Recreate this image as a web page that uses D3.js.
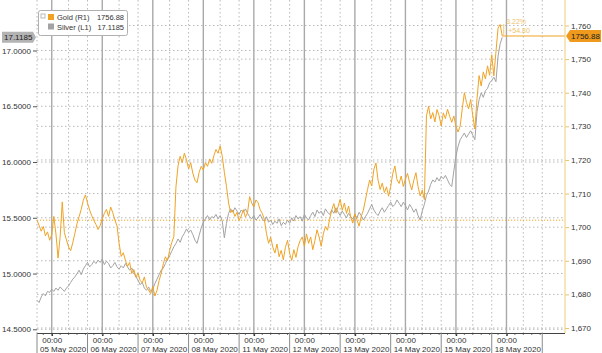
<!DOCTYPE html>
<html>
<head>
<meta charset="utf-8">
<script src="https://cdn.jsdelivr.net/npm/d3@7/dist/d3.min.js"></script>
<style>
body { margin: 0; background: #fff; }
svg text { font-family: "Liberation Sans", Arial, sans-serif; font-size: 8px; fill: #333; }
</style>
</head>
<body>
<script>
// Session days on the x axis (each session runs 17:00 -> 17:00, hourly points)
let dayLabels = ["05 May 2020", "06 May 2020", "07 May 2020", "08 May 2020", "11 May 2020",
                 "12 May 2020", "13 May 2020", "14 May 2020", "15 May 2020", "18 May 2020"];

// Gold (R1), one value per session hour
let goldValues = [
  1702.1, 1700.5, 1698.8, 1700.2, 1697.4, 1698.6, 1696.1, 1697.8, 1703.2, 1698.0,
  1690.8, 1697.2, 1707.5, 1698.4, 1696.2, 1694.1, 1693.0, 1695.4, 1698.2, 1701.0,
  1703.1, 1705.3, 1708.0, 1709.6, 1707.2, 1705.1, 1703.4, 1702.0, 1700.8, 1699.3,
  1700.5, 1702.4, 1704.1, 1705.3, 1703.2, 1706.0, 1704.3, 1702.1, 1700.4, 1695.2,
  1691.3, 1692.4, 1690.1, 1688.3, 1689.5, 1686.2, 1687.4, 1685.1, 1686.3, 1684.2,
  1683.4, 1685.2, 1682.1, 1681.3, 1680.2, 1682.4, 1679.5, 1681.2, 1684.1, 1686.3,
  1689.1, 1691.2, 1690.0, 1693.1, 1695.4, 1697.2, 1712.0, 1718.3, 1721.1, 1719.2,
  1722.0, 1720.1, 1717.3, 1719.2, 1716.1, 1714.0, 1713.2, 1716.3, 1718.1, 1717.0,
  1719.2, 1718.1, 1720.3, 1719.0, 1721.2, 1723.1, 1722.0, 1724.2, 1721.1, 1716.3,
  1712.1, 1707.2, 1704.3, 1705.1, 1703.2, 1704.4, 1702.1, 1703.3, 1705.2, 1703.0,
  1704.3, 1709.1, 1707.2, 1706.0, 1708.1, 1707.3, 1705.2, 1704.1, 1702.3, 1698.1,
  1695.2, 1697.0, 1694.1, 1692.3, 1695.0, 1691.2, 1693.1, 1690.3, 1694.0, 1696.1,
  1692.2, 1690.1, 1693.3, 1691.0, 1694.2, 1696.0, 1697.1, 1694.3, 1698.0, 1695.2,
  1697.1, 1693.3, 1696.0, 1699.2, 1697.1, 1694.3, 1698.0, 1700.2, 1699.1, 1702.3,
  1705.1, 1707.0, 1704.2, 1706.1, 1708.3, 1705.0, 1707.2, 1704.1, 1706.3, 1703.0,
  1701.2, 1704.0, 1702.1, 1700.3, 1703.2, 1705.0, 1708.1, 1711.2, 1714.0, 1712.3,
  1717.2, 1719.1, 1714.0, 1711.2, 1713.1, 1710.3, 1712.0, 1709.2, 1712.1, 1716.0,
  1718.2, 1714.1, 1713.0, 1715.2, 1712.1, 1714.3, 1716.0, 1713.2, 1711.1, 1714.0,
  1716.2, 1712.1, 1709.3, 1711.0, 1708.2, 1733.1, 1736.0, 1732.2, 1734.1, 1731.3,
  1735.0, 1733.2, 1730.1, 1734.0, 1732.3, 1735.1, 1733.0, 1731.2, 1733.1, 1730.0,
  1728.3, 1730.1, 1735.2, 1740.0, 1737.1, 1735.2, 1738.0, 1733.1, 1729.2, 1738.3,
  1745.1, 1742.0, 1746.2, 1744.1, 1748.0, 1745.2, 1751.3, 1745.0, 1752.1, 1759.2,
  1760.3, 1756.88
];

// Silver (L1), same hours
let silverValues = [
  14.76, 14.74, 14.79, 14.82, 14.80, 14.84, 14.83, 14.86, 14.84, 14.87,
  14.85, 14.88, 14.86, 14.84, 14.87, 14.89, 14.92, 14.95, 14.97, 15.00,
  15.03, 14.99, 15.04, 15.07, 15.10, 15.06, 15.08, 15.11, 15.09, 15.12,
  15.10, 15.13, 15.08, 15.11, 15.09, 15.05, 15.07, 15.10, 15.06, 15.04,
  15.07, 15.05, 15.09, 15.06, 15.03, 15.05, 15.01, 14.97, 14.94, 14.90,
  14.92, 14.87, 14.85, 14.88, 14.84, 14.86, 14.91, 14.95, 14.99, 15.03,
  15.05, 15.09, 15.13, 15.16, 15.20, 15.24, 15.27, 15.31, 15.28, 15.33,
  15.36, 15.40, 15.37, 15.39, 15.35, 15.30, 15.27, 15.34, 15.41, 15.46,
  15.49, 15.52, 15.48, 15.51, 15.50, 15.53, 15.49, 15.52, 15.47, 15.32,
  15.45, 15.54, 15.58, 15.55, 15.59, 15.56, 15.53, 15.57, 15.55, 15.58,
  15.54, 15.51, 15.49, 15.52, 15.48, 15.50, 15.53, 15.49, 15.47, 15.51,
  15.46, 15.48, 15.44, 15.47, 15.45, 15.49, 15.43, 15.46, 15.44, 15.48,
  15.45, 15.50, 15.47, 15.52, 15.49, 15.51, 15.47, 15.53, 15.50, 15.48,
  15.52, 15.55, 15.51, 15.57, 15.54, 15.56, 15.52, 15.58, 15.55, 15.53,
  15.57, 15.54, 15.59, 15.55, 15.52, 15.56, 15.53, 15.50, 15.54, 15.51,
  15.49, 15.53, 15.50, 15.55, 15.52, 15.48, 15.51, 15.54, 15.58, 15.62,
  15.57, 15.54, 15.52, 15.56, 15.59, 15.55, 15.58, 15.61, 15.64, 15.60,
  15.62, 15.66, 15.63, 15.60, 15.64, 15.61, 15.57, 15.62, 15.59, 15.55,
  15.58, 15.52, 15.48, 15.56, 15.62, 15.70, 15.74, 15.80, 15.84, 15.82,
  15.86, 15.83, 15.87, 15.85, 15.88, 15.84, 15.80, 15.78, 15.92, 16.05,
  16.14, 16.20, 16.23, 16.26, 16.22, 16.25, 16.28, 16.24, 16.20, 16.45,
  16.56, 16.62, 16.58, 16.64, 16.66, 16.71, 16.73, 16.76, 16.72, 16.95,
  17.06, 17.1185
];

let silverTicks = [14.5, 15.0, 15.5, 16.0, 16.5, 17.0];
let goldTicks = [1670, 1680, 1690, 1700, 1710, 1720, 1730, 1740, 1750, 1760];
let goldBase = 1702.08;   // gold at start of window

// Set the dimensions of the canvas / graph
let margin = {top: 0, right: 37, bottom: 20, left: 37};
let width = 602 - margin.left - margin.right;
let height = 353 - margin.top - margin.bottom;

let goldColor = "#f0a323";
let silverColor = "#a3a3a3";
let gridColor = "#b9b9b9";

// Set the ranges
let x = d3.scaleLinear().domain([0, 250.8]).range([0, width]);
let yGold = d3.scaleLinear().domain([1670, 1760]).range([328, 25.5]);
let ySilver = d3.scaleLinear().domain([14.5, 17.0]).range([329.3, 50.5]);

let svg = d3.select("body")
    .append("svg")
        .attr("width", width + margin.left + margin.right)
        .attr("height", height + margin.top + margin.bottom)
    .append("g")
        .attr("transform", "translate(" + margin.left + "," + margin.top + ")");

// hour positions: session start (17:00), midnight (00:00) and 08:00
let sessionStarts = dayLabels.map((d, i) => i * 24).concat([240]);
let midnights = dayLabels.map((d, i) => i * 24 + 7);
let mornings = dayLabels.map((d, i) => i * 24 + 15);

// horizontal dotted grid for both axes
svg.selectAll(".hgrid-s").data(silverTicks).enter().append("line")
    .attr("x1", 0).attr("x2", width)
    .attr("y1", d => ySilver(d)).attr("y2", d => ySilver(d))
    .attr("stroke", gridColor).attr("stroke-dasharray", "1.5,2.5");
svg.selectAll(".hgrid-g").data(goldTicks).enter().append("line")
    .attr("x1", 0).attr("x2", width)
    .attr("y1", d => yGold(d)).attr("y2", d => yGold(d))
    .attr("stroke", gridColor).attr("stroke-dasharray", "1.5,2.5");

// vertical dotted grid (08:00 and session boundaries)
svg.selectAll(".vgrid").data(mornings.concat(sessionStarts.slice(1))).enter().append("line")
    .attr("x1", d => x(d)).attr("x2", d => x(d))
    .attr("y1", 0).attr("y2", height)
    .attr("stroke", gridColor).attr("stroke-dasharray", "1.5,2.5");

// solid midnight lines
svg.selectAll(".vmid").data(midnights).enter().append("line")
    .attr("x1", d => x(d)).attr("x2", d => x(d))
    .attr("y1", 0).attr("y2", height)
    .attr("stroke", "#a9a9a9").attr("stroke-width", 1.4);

// gold reference line at start value
svg.append("line")
    .attr("x1", 0).attr("x2", width)
    .attr("y1", yGold(goldBase)).attr("y2", yGold(goldBase))
    .attr("stroke", goldColor).attr("stroke-dasharray", "1.2,1.8");

// Define the lines
let silverLine = d3.line()
    .x(function(d, i) { return x(i); })
    .y(function(d) { return ySilver(d); });
let goldLine = d3.line()
    .x(function(d, i) { return x(i); })
    .y(function(d) { return yGold(d); });

svg.append("path").attr("d", silverLine(silverValues))
    .attr("fill", "none").attr("stroke", silverColor).attr("stroke-width", 1);
svg.append("path").attr("d", goldLine(goldValues))
    .attr("fill", "none").attr("stroke", goldColor).attr("stroke-width", 1);

// last gold value carried to the right axis
let lastI = goldValues.length - 1;
let goldLast = goldValues[lastI];
let silverLast = silverValues[silverValues.length - 1];
svg.append("line")
    .attr("x1", x(lastI)).attr("x2", width)
    .attr("y1", yGold(goldLast)).attr("y2", yGold(goldLast))
    .attr("stroke", goldColor).attr("stroke-width", 1);

// change annotation
let change = goldLast - goldBase;
svg.append("line")
    .attr("x1", x(lastI) + 1.5).attr("x2", x(lastI) + 1.5)
    .attr("y1", yGold(goldLast) - 12).attr("y2", yGold(goldLast))
    .attr("stroke", "#f3c872").attr("stroke-width", 1);
svg.append("text")
    .attr("x", x(lastI) + 4).attr("y", yGold(goldLast) - 12)
    .style("fill", "#f0c36a").style("font-size", "7px")
    .text(d3.format(".2f")(change / goldBase * 100) + "%");
svg.append("text")
    .attr("x", x(lastI) + 6).attr("y", yGold(goldLast) - 3)
    .style("fill", "#f0c36a").style("font-size", "7px")
    .text("+" + d3.format(".2f")(change));

// Left axis (silver)
let yAxisLeft = d3.axisLeft(ySilver).tickValues(silverTicks)
    .tickFormat(d3.format(".4f")).tickSize(4).tickPadding(2);
let gl = svg.append("g").call(yAxisLeft);
gl.select(".domain").remove();
gl.selectAll(".tick line").attr("stroke", "#555");
gl.append("line").attr("x1", 0).attr("x2", 0).attr("y1", 0).attr("y2", height)
    .attr("stroke", gridColor).attr("stroke-dasharray", "1.5,2.5");

// Right axis (gold)
let yAxisRight = d3.axisRight(yGold).tickValues(goldTicks).tickSize(4).tickPadding(2);
let gr = svg.append("g").attr("transform", "translate(" + width + ",0)").call(yAxisRight);
gr.select(".domain").remove();
gr.selectAll(".tick line").attr("stroke", "#e8c26a");
gr.append("line").attr("x1", 0).attr("x2", 0).attr("y1", 0).attr("y2", height)
    .attr("stroke", "#f1d58f").attr("stroke-width", 1.2);

// Bottom axis
let xAxis = d3.axisBottom(x).tickValues(midnights).tickFormat(() => "00:00").tickSize(3).tickPadding(3);
let gb = svg.append("g").attr("transform", "translate(0," + height + ")").call(xAxis);
gb.select(".domain").remove();
gb.selectAll(".tick line").attr("stroke", "#333").attr("stroke-width", 1.5);
gb.selectAll(".tick text").attr("dy", "0.55em");

// minor ticks every 4 hours
let minor = d3.range(3, 241, 4);
gb.selectAll(".minor").data(minor).enter().append("line")
    .attr("x1", d => x(d)).attr("x2", d => x(d))
    .attr("y1", 0).attr("y2", 2).attr("stroke", "#777");

gb.append("line").attr("x1", 0).attr("x2", width).attr("y1", 0.5).attr("y2", 0.5)
    .attr("stroke", "#444").attr("stroke-width", 1.2);

gb.selectAll(".sep").data(sessionStarts).enter().append("line")
    .attr("x1", d => x(d)).attr("x2", d => x(d))
    .attr("y1", 0).attr("y2", 20).attr("stroke", "#8a8a8a");

gb.selectAll(".day").data(dayLabels).enter().append("text")
    .attr("x", (d, i) => x(i * 24 + 12.4))
    .attr("y", 18.5)
    .style("text-anchor", "middle")
    .text(d => d);

// Legend
let lg = svg.append("g").attr("transform", "translate(1,10)");
lg.append("rect").attr("x", 0.5).attr("y", 0.5).attr("width", 89).attr("height", 25).attr("rx", 2)
    .attr("fill", "#fff").attr("stroke", "#b0b0b0");
lg.append("rect").attr("x", 3).attr("y", 4).attr("width", 4).attr("height", 4)
    .attr("fill", "none").attr("stroke", "#aaa").attr("stroke-width", 0.8);
let legendItems = [
  {name: "Gold (R1)", value: d3.format(".2f")(goldLast), color: goldColor},
  {name: "Silver (L1)", value: d3.format(".4f")(silverLast), color: silverColor}
];
legendItems.forEach(function(d, i) {
    lg.append("rect").attr("x", 10).attr("y", 4 + i * 9.5).attr("width", 6).attr("height", 6).attr("fill", d.color);
    lg.append("text").attr("x", 19).attr("y", 10 + i * 9.5).style("font-size", "7.5px").text(d.name);
    lg.append("text").attr("x", 86).attr("y", 10 + i * 9.5).style("font-size", "7.5px")
        .style("text-anchor", "end").text(d.value);
});

// Last value tags
let ys = ySilver(silverLast);
svg.append("path")
    .attr("d", "M" + (-35) + "," + (ys - 5.5) + "H-4L-1," + ys + "L-4," + (ys + 5.5) + "H-35Z")
    .attr("fill", "#b3b3b3");
svg.append("text").attr("x", -33).attr("y", ys + 3).style("fill", "#222")
    .text(d3.format(".4f")(silverLast));

let yg = yGold(goldLast);
svg.append("path")
    .attr("d", "M1," + yg + "L5," + (yg - 6) + "H36V" + (yg + 6) + "H5Z")
    .attr("transform", "translate(" + width + ",0)")
    .attr("fill", "#ef9a1c");
svg.append("text").attr("x", width + 6).attr("y", yg + 3).style("fill", "#222")
    .text(d3.format(".2f")(goldLast));
</script>
</body>
</html>
